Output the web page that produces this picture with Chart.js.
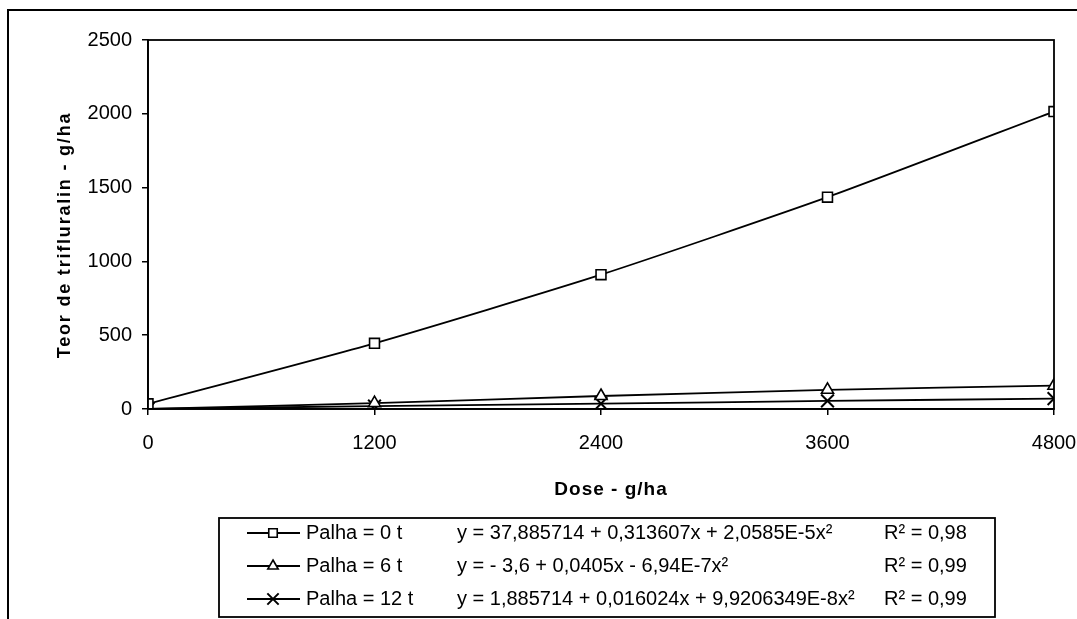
<!DOCTYPE html>
<html>
<head>
<meta charset="utf-8">
<script src="https://cdn.jsdelivr.net/npm/chart.js@4.4.1/dist/chart.umd.min.js"></script>
<style>
  html, body { margin: 0; padding: 0; background: #fff; }
  #wrap { width: 1077px; height: 619px; position: relative; }
</style>
</head>
<body>
<div id="wrap"><canvas id="c" width="1077" height="619"></canvas></div>
<script>
// ---- data ----
const doses = [0, 1200, 2400, 3600, 4800];
const palha0 = [35, 445, 910, 1435, 2015];
const palha6 = [0, 40, 88, 130, 158];
const palha12 = [0, 20, 36, 55, 70];
const seriesLabels = ['Palha = 0 t', 'Palha = 6 t', 'Palha = 12 t'];
const equations = [
  'y = 37,885714 + 0,313607x + 2,0585E-5x\u00B2',
  'y = - 3,6 + 0,0405x - 6,94E-7x\u00B2',
  'y = 1,885714 + 0,016024x + 9,9206349E-8x\u00B2'
];
const r2Labels = ['R\u00B2 = 0,98', 'R\u00B2 = 0,99', 'R\u00B2 = 0,99'];
const xTitle = 'Dose - g/ha';
const yTitle = 'Teor de trifluralin - g/ha';
const xTickMax = 4800, xTickStep = 1200;
const yTickMax = 2500, yTickStep = 500;

const FONT = '"Liberation Sans", Arial, Helvetica, sans-serif';

function toPts(vals) { return doses.map((d, i) => ({ x: d, y: vals[i] })); }

const styles = [
  { pointStyle: 'rect', radius: 7, lw: 1.6 },
  { pointStyle: 'triangle', radius: 7, lw: 1.6 },
  { pointStyle: 'crossRot', radius: 9, lw: 2 }
];
const allSeries = [palha0, palha6, palha12];

const datasets = allSeries.map((vals, i) => ({
  label: seriesLabels[i],
  data: toPts(vals),
  borderColor: '#000',
  backgroundColor: '#fff',
  borderWidth: 1.8,
  tension: 0.2,
  pointStyle: styles[i].pointStyle,
  pointRadius: styles[i].radius,
  pointBorderWidth: styles[i].lw,
  pointBackgroundColor: '#fff',
  pointBorderColor: '#000'
}));

const plainTick = (v) => String(v);

const decorPlugin = {
  id: 'decor',
  beforeDraw(chart) {
    const ctx = chart.ctx;
    ctx.save();
    ctx.fillStyle = '#fff';
    ctx.fillRect(0, 0, chart.width, chart.height);
    ctx.strokeStyle = '#000';
    ctx.lineWidth = 2;
    ctx.beginPath();
    ctx.moveTo(8, chart.height + 5);
    ctx.lineTo(8, 10);
    ctx.lineTo(chart.width + 5, 10);
    ctx.stroke();
    ctx.restore();
  },
  afterDatasetsDraw(chart) {
    const ctx = chart.ctx;
    const a = chart.chartArea;
    ctx.save();
    ctx.strokeStyle = '#000';
    ctx.lineWidth = 1.8;
    ctx.strokeRect(a.left, a.top, a.right - a.left, a.bottom - a.top);
    ctx.restore();
  },
  afterDraw(chart) {
    const ctx = chart.ctx;
    ctx.save();
    ctx.fillStyle = '#000';
    ctx.font = 'bold 19px ' + FONT;
    ctx.textAlign = 'center';
    ctx.textBaseline = 'middle';
    if ('letterSpacing' in ctx) ctx.letterSpacing = '1px';
    ctx.fillText(xTitle, 611, 490);
    ctx.save();
    ctx.translate(65, 235);
    ctx.rotate(-Math.PI / 2);
    ctx.font = 'bold 18px ' + FONT;
    if ('letterSpacing' in ctx) ctx.letterSpacing = '1.8px';
    ctx.fillText(yTitle, 0, 0);
    ctx.restore();
    if ('letterSpacing' in ctx) ctx.letterSpacing = '0px';

    const bx = 219, by = 518, bw = 995 - 219, bh = 617 - 518;
    ctx.fillStyle = '#fff';
    ctx.fillRect(bx, by, bw, bh);
    ctx.strokeStyle = '#000';
    ctx.lineWidth = 1.8;
    ctx.strokeRect(bx, by, bw, bh);
    const rows = [533, 566, 599];
    ctx.font = '20px ' + FONT;
    ctx.textAlign = 'left';
    ctx.textBaseline = 'middle';
    rows.forEach((ry, i) => {
      ctx.strokeStyle = '#000';
      ctx.lineWidth = 1.8;
      ctx.beginPath();
      ctx.moveTo(247, ry);
      ctx.lineTo(300, ry);
      ctx.stroke();
      ctx.fillStyle = '#fff';
      ctx.lineWidth = styles[i].lw;
      Chart.helpers.drawPoint(ctx, {
        pointStyle: styles[i].pointStyle,
        radius: styles[i].pointStyle === 'crossRot' ? 8 : 6,
        rotation: 0,
        borderWidth: styles[i].lw
      }, 273, ry);
      ctx.fillStyle = '#000';
      ctx.fillText(seriesLabels[i], 306, ry);
      ctx.fillText(equations[i], 457, ry);
      ctx.fillText(r2Labels[i], 884, ry);
    });
    ctx.restore();
  }
};

new Chart(document.getElementById('c'), {
  type: 'line',
  data: { datasets },
  options: {
    responsive: false,
    devicePixelRatio: 1,
    animation: false,
    layout: { padding: { left: 0, top: 40, right: 23, bottom: 0 } },
    plugins: { legend: { display: false }, tooltip: { enabled: false }, title: { display: false } },
    scales: {
      x: {
        type: 'linear',
        min: 0, max: xTickMax,
        ticks: { stepSize: xTickStep, color: '#000', font: { family: FONT, size: 20 }, padding: 16, maxRotation: 0, callback: plainTick },
        grid: { drawOnChartArea: false, drawTicks: true, tickLength: 6, color: '#000', lineWidth: 1.5 },
        border: { color: '#000', width: 1.8 },
        afterFit(s) { s.height = 619 - 409; s.paddingRight = 0; s.paddingLeft = 0; }
      },
      y: {
        min: 0, max: yTickMax,
        ticks: { stepSize: yTickStep, color: '#000', font: { family: FONT, size: 20 }, padding: 10, callback: plainTick },
        grid: { drawOnChartArea: false, drawTicks: true, tickLength: 6, color: '#000', lineWidth: 1.5 },
        border: { color: '#000', width: 1.8 },
        afterFit(s) { s.width = 148; s.paddingTop = 0; s.paddingBottom = 0; }
      }
    }
  },
  plugins: [decorPlugin]
});
</script>
</body>
</html>
